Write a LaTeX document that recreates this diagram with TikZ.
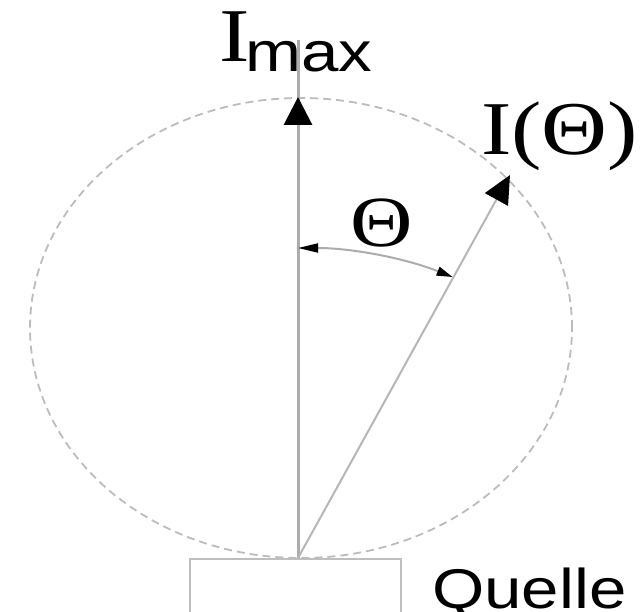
\documentclass[tikz,border=0pt]{standalone}
\usepackage{fontspec}
\newfontfamily\lsf{Liberation Serif}
\newfontfamily\lss{Liberation Sans}
\usetikzlibrary{arrows.meta}
\definecolor{axisgray}{RGB}{172,172,172}
\definecolor{slantgray}{RGB}{182,182,182}
\definecolor{dashgray}{RGB}{188,188,188}
\definecolor{boxgray}{RGB}{190,190,190}
\begin{document}
\begin{tikzpicture}[x=1pt,y=1pt,
  lbl/.style={inner sep=0pt, text=black},
  bigtip/.style={-{Triangle[length=28pt,width=28pt,color=black]}},
  arcarrows/.style={{Triangle[length=20pt,width=9pt,color=black]}-{Triangle[length=16pt,width=9pt,color=black]}}]
\useasboundingbox (0,0) rectangle (644,611);
\coordinate (S) at (298,53);
\coordinate (top) at (298,571);
\coordinate (Imaxtip) at (298,514);
\coordinate (T) at (510,436);
\coordinate (C) at (301,283);
% radiation pattern
\draw[dashgray, line width=1.8pt, dash pattern=on 8pt off 5pt] (C) ellipse [x radius=271, y radius=230];
% source box
\node[draw=boxgray, line width=2pt, minimum width=211pt, minimum height=90pt, anchor=north west, inner sep=0pt] (src) at (189,53) {};
% vertical axis
\draw[axisgray, line width=3pt] (S) -- (top);
\draw[axisgray, line width=3pt, bigtip] (S) -- (Imaxtip);
% slanted direction
\draw[slantgray, line width=2pt, -{Triangle[length=28pt,width=26pt,color=black]}] (S) -- (T);
% angle arc
\draw[axisgray, line width=2pt, arcarrows] ([yshift=310pt]S) arc[start angle=90, end angle=65, x radius=366, y radius=310];
% labels
\node[lbl, anchor=base west] (Ilab) at (219,549) {\lsf\fontsize{76}{80}\selectfont\scalebox{1.2}[1]{I}};
\node[lbl, anchor=base west] (maxlab) at (245,539) {\lss\fontsize{56}{60}\selectfont\scalebox{1.2}[1]{max}};
\node[lbl, anchor=base west] (Itheta) at (481,456) {\lsf\fontsize{76}{80}\selectfont\scalebox{1.2}[1]{I(Θ)}};
\node[lbl] (thetalab) at (382,388) {\lsf\fontsize{72}{76}\selectfont\scalebox{1.2}[1]{Θ}};
\node[lbl, anchor=base west] (quelle) at (432,3) {\lss\fontsize{56}{60}\selectfont\scalebox{1.2}[1]{Quelle}};
\end{tikzpicture}
\end{document}
